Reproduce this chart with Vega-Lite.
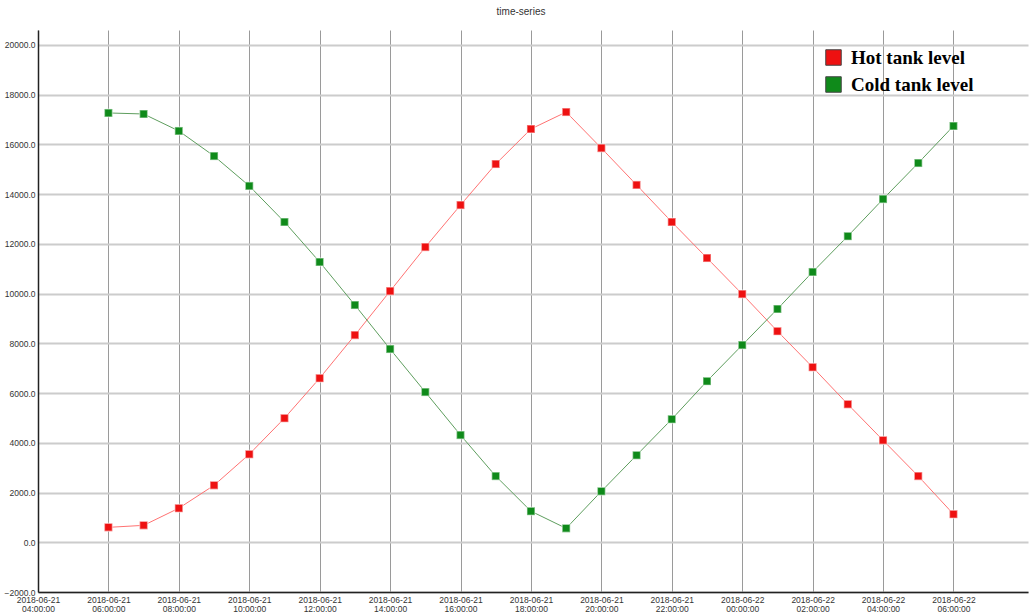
{
  "$schema": "https://vega.github.io/schema/vega-lite/v6.json",
  "width": 990,
  "height": 562,
  "autosize": "none",
  "padding": {"left": 38, "top": 30, "right": 2, "bottom": 21},
  "background": "white",
  "title": {"text": "time-series", "fontSize": 10, "font": "Liberation Sans", "fontWeight": "normal", "color": "#333", "anchor": "middle", "offset": 13, "dx": -12},
  "config": {
    "view": {"stroke": null},
    "axis": {"labelFont": "Liberation Sans", "labelFontSize": 8.5, "labelColor": "#333", "ticks": false, "domainColor": "#222", "domainWidth": 1.5, "title": null}
  },
  "data": {"values": [
    {"time": "2018-06-21T06:00:00Z", "series": "Hot tank level", "level": 600},
    {"time": "2018-06-21T07:00:00Z", "series": "Hot tank level", "level": 680},
    {"time": "2018-06-21T08:00:00Z", "series": "Hot tank level", "level": 1370},
    {"time": "2018-06-21T09:00:00Z", "series": "Hot tank level", "level": 2290},
    {"time": "2018-06-21T10:00:00Z", "series": "Hot tank level", "level": 3540},
    {"time": "2018-06-21T11:00:00Z", "series": "Hot tank level", "level": 4990},
    {"time": "2018-06-21T12:00:00Z", "series": "Hot tank level", "level": 6600},
    {"time": "2018-06-21T13:00:00Z", "series": "Hot tank level", "level": 8330},
    {"time": "2018-06-21T14:00:00Z", "series": "Hot tank level", "level": 10100},
    {"time": "2018-06-21T15:00:00Z", "series": "Hot tank level", "level": 11870},
    {"time": "2018-06-21T16:00:00Z", "series": "Hot tank level", "level": 13560},
    {"time": "2018-06-21T17:00:00Z", "series": "Hot tank level", "level": 15210},
    {"time": "2018-06-21T18:00:00Z", "series": "Hot tank level", "level": 16620},
    {"time": "2018-06-21T19:00:00Z", "series": "Hot tank level", "level": 17300},
    {"time": "2018-06-21T20:00:00Z", "series": "Hot tank level", "level": 15850},
    {"time": "2018-06-21T21:00:00Z", "series": "Hot tank level", "level": 14370},
    {"time": "2018-06-21T22:00:00Z", "series": "Hot tank level", "level": 12880},
    {"time": "2018-06-21T23:00:00Z", "series": "Hot tank level", "level": 11430},
    {"time": "2018-06-22T00:00:00Z", "series": "Hot tank level", "level": 9980},
    {"time": "2018-06-22T01:00:00Z", "series": "Hot tank level", "level": 8490},
    {"time": "2018-06-22T02:00:00Z", "series": "Hot tank level", "level": 7040},
    {"time": "2018-06-22T03:00:00Z", "series": "Hot tank level", "level": 5550},
    {"time": "2018-06-22T04:00:00Z", "series": "Hot tank level", "level": 4100},
    {"time": "2018-06-22T05:00:00Z", "series": "Hot tank level", "level": 2660},
    {"time": "2018-06-22T06:00:00Z", "series": "Hot tank level", "level": 1130},
    {"time": "2018-06-21T06:00:00Z", "series": "Cold tank level", "level": 17264},
    {"time": "2018-06-21T07:00:00Z", "series": "Cold tank level", "level": 17223},
    {"time": "2018-06-21T08:00:00Z", "series": "Cold tank level", "level": 16540},
    {"time": "2018-06-21T09:00:00Z", "series": "Cold tank level", "level": 15530},
    {"time": "2018-06-21T10:00:00Z", "series": "Cold tank level", "level": 14330},
    {"time": "2018-06-21T11:00:00Z", "series": "Cold tank level", "level": 12880},
    {"time": "2018-06-21T12:00:00Z", "series": "Cold tank level", "level": 11270},
    {"time": "2018-06-21T13:00:00Z", "series": "Cold tank level", "level": 9540},
    {"time": "2018-06-21T14:00:00Z", "series": "Cold tank level", "level": 7770},
    {"time": "2018-06-21T15:00:00Z", "series": "Cold tank level", "level": 6040},
    {"time": "2018-06-21T16:00:00Z", "series": "Cold tank level", "level": 4310},
    {"time": "2018-06-21T17:00:00Z", "series": "Cold tank level", "level": 2660},
    {"time": "2018-06-21T18:00:00Z", "series": "Cold tank level", "level": 1250},
    {"time": "2018-06-21T19:00:00Z", "series": "Cold tank level", "level": 560},
    {"time": "2018-06-21T20:00:00Z", "series": "Cold tank level", "level": 2050},
    {"time": "2018-06-21T21:00:00Z", "series": "Cold tank level", "level": 3500},
    {"time": "2018-06-21T22:00:00Z", "series": "Cold tank level", "level": 4950},
    {"time": "2018-06-21T23:00:00Z", "series": "Cold tank level", "level": 6480},
    {"time": "2018-06-22T00:00:00Z", "series": "Cold tank level", "level": 7930},
    {"time": "2018-06-22T01:00:00Z", "series": "Cold tank level", "level": 9380},
    {"time": "2018-06-22T02:00:00Z", "series": "Cold tank level", "level": 10870},
    {"time": "2018-06-22T03:00:00Z", "series": "Cold tank level", "level": 12310},
    {"time": "2018-06-22T04:00:00Z", "series": "Cold tank level", "level": 13800},
    {"time": "2018-06-22T05:00:00Z", "series": "Cold tank level", "level": 15250},
    {"time": "2018-06-22T06:00:00Z", "series": "Cold tank level", "level": 16740}
  ]},
  "encoding": {
    "x": {
      "field": "time", "type": "temporal",
      "scale": {"type": "utc", "domain": [
        {"year": 2018, "month": 6, "date": 21, "hours": 4, "utc": true},
        {"year": 2018, "month": 6, "date": 22, "hours": 8, "minutes": 7, "utc": true}
      ]},
      "axis": {
        "values": [
          {"year": 2018, "month": 6, "date": 21, "hours": 4, "utc": true},
          {"year": 2018, "month": 6, "date": 21, "hours": 6, "utc": true},
          {"year": 2018, "month": 6, "date": 21, "hours": 8, "utc": true},
          {"year": 2018, "month": 6, "date": 21, "hours": 10, "utc": true},
          {"year": 2018, "month": 6, "date": 21, "hours": 12, "utc": true},
          {"year": 2018, "month": 6, "date": 21, "hours": 14, "utc": true},
          {"year": 2018, "month": 6, "date": 21, "hours": 16, "utc": true},
          {"year": 2018, "month": 6, "date": 21, "hours": 18, "utc": true},
          {"year": 2018, "month": 6, "date": 21, "hours": 20, "utc": true},
          {"year": 2018, "month": 6, "date": 21, "hours": 22, "utc": true},
          {"year": 2018, "month": 6, "date": 22, "hours": 0, "utc": true},
          {"year": 2018, "month": 6, "date": 22, "hours": 2, "utc": true},
          {"year": 2018, "month": 6, "date": 22, "hours": 4, "utc": true},
          {"year": 2018, "month": 6, "date": 22, "hours": 6, "utc": true}
        ],
        "labelExpr": "[utcFormat(datum.value, '%Y-%m-%d'), utcFormat(datum.value, '%H:%M:%S')]",
        "labelLineHeight": 9,
        "labelPadding": 3,
        "labelFlush": false,
        "labelOverlap": false,
        "grid": true, "gridColor": "#9a9a9a", "gridWidth": 1
      }
    },
    "y": {
      "field": "level", "type": "quantitative",
      "scale": {"domain": [-2000, 20600], "nice": false, "zero": false},
      "axis": {
        "values": [-2000, 0, 2000, 4000, 6000, 8000, 10000, 12000, 14000, 16000, 18000, 20000],
        "format": ".1f", "labelPadding": 3,
        "grid": true, "gridColor": "#cccccc", "gridWidth": 2
      }
    }
  },
  "layer": [
    {
      "mark": {"type": "line", "strokeWidth": 1},
      "encoding": {
        "stroke": {"condition": {"test": "datum.series === 'Hot tank level'", "value": "#ff7272"}, "value": "#5e9e5e"},
        "detail": {"field": "series"}
      }
    },
    {
      "mark": {"type": "point", "shape": "square", "filled": true, "size": 64, "stroke": "#ffffff", "strokeOpacity": 0.45, "strokeWidth": 1.5, "opacity": 1},
      "encoding": {
        "fill": {"field": "series", "type": "nominal",
          "scale": {"domain": ["Hot tank level", "Cold tank level"], "range": ["#ee1111", "#0f8a1a"]},
          "legend": {
            "title": null, "orient": "none", "legendX": 786, "legendY": 18,
            "symbolType": "square", "symbolSize": 240, "symbolStrokeColor": "#444", "symbolStrokeWidth": 1,
            "labelFont": "Liberation Serif", "labelFontSize": 19, "labelFontWeight": "bold", "labelColor": "#000",
            "rowPadding": 6, "labelOffset": 8,
            "encode": {"symbols": {"update": {"fill": {"signal": "datum.value === 'Hot tank level' ? '#ee2228' : '#2e7a3e'"}, "opacity": {"value": 1}}}}
          }
        }
      }
    }
  ]
}
